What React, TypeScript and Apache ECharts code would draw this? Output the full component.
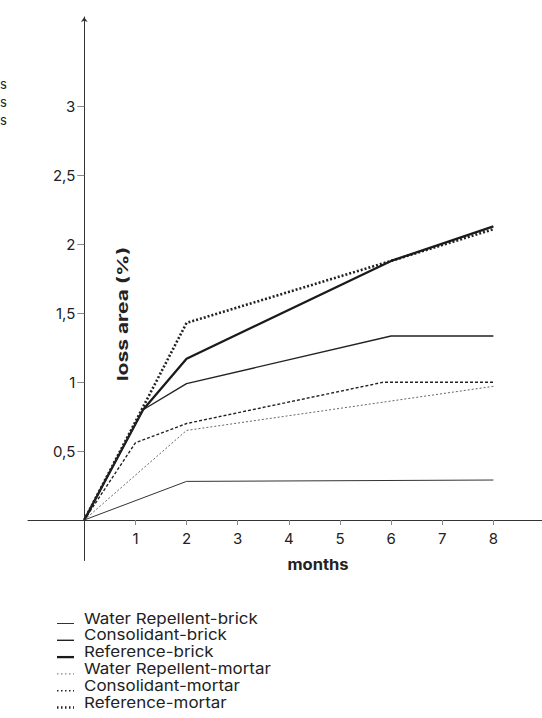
import React, { useEffect, useRef } from "react";
import * as echarts from "echarts";

const seriesNames = [
  "Water Repellent-brick",
  "Consolidant-brick",
  "Reference-brick",
  "Water Repellent-mortar",
  "Consolidant-mortar",
  "Reference-mortar",
];
const waterRepellentBrick = [[0, 0], [2, 0.28], [8, 0.29]];
const consolidantBrick = [[0, 0], [1.15, 0.8], [2, 0.99], [6, 1.335], [8, 1.335]];
const referenceBrick = [[0, 0], [1.15, 0.8], [2, 1.17], [6, 1.88], [8, 2.13]];
const waterRepellentMortar = [[0, 0], [2, 0.65], [8, 0.97]];
const consolidantMortar = [[0, 0], [1, 0.56], [2, 0.7], [5.85, 1.0], [8, 1.0]];
const referenceMortar = [[0, 0], [1.15, 0.82], [2, 1.43], [6, 1.88], [8, 2.11]];
const xTicks = [1, 2, 3, 4, 5, 6, 7, 8];
const yTicks = [0.5, 1, 1.5, 2, 2.5, 3];
const xAxisTitle = "months";
const yAxisTitle = "loss area (%)";
const cutTexts = ["s", "s", "s"];

const FONT = "Inter, 'Liberation Sans', Arial, sans-serif";
const styles = [
  { width: 1, type: "solid" as any, color: "#333" },
  { width: 1.4, type: "solid" as any, color: "#222" },
  { width: 2.3, type: "solid" as any, color: "#1a1a1a" },
  { width: 1, type: [2, 2] as any, color: "#666" },
  { width: 1.4, type: [3, 2] as any, color: "#222" },
  { width: 2.6, type: [2, 2] as any, color: "#222" },
];
const datasets = [
  waterRepellentBrick,
  consolidantBrick,
  referenceBrick,
  waterRepellentMortar,
  consolidantMortar,
  referenceMortar,
];

export default function App() {
  const ref = useRef<HTMLDivElement>(null);
  useEffect(() => {
    if (!ref.current) return;
    const chart = echarts.init(ref.current, null, { renderer: "svg" });
    const g: any[] = [];
    seriesNames.forEach((name, i) => {
      const cy = 618 + i * 16.8;
      const s = styles[i];
      g.push({
        type: "line",
        shape: { x1: 57, y1: cy + 5.5, x2: 74, y2: cy + 5.5 },
        style: {
          stroke: s.color,
          lineWidth: s.width,
          lineDash: Array.isArray(s.type) ? [1.5, 2.5] : null,
        },
      });
      g.push({
        type: "text",
        x: 84,
        y: cy,
        scaleX: 1.13,
        style: {
          text: name,
          font: `15px ${FONT}`,
          lineHeight: 15,
          fill: "#222",
          align: "left",
          verticalAlign: "middle",
        },
      });
    });
    cutTexts.forEach((t, i) => {
      g.push({
        type: "text",
        x: 0,
        y: 84 + i * 18,
        style: { text: t, font: `13px ${FONT}`, fill: "#222", align: "left", verticalAlign: "middle" },
      });
    });
    g.push({
      type: "text",
      x: 122,
      y: 314,
      rotation: Math.PI / 2,
      scaleX: 1.4,
      style: { text: yAxisTitle, font: `bold 15px ${FONT}`, fill: "#222", align: "center", verticalAlign: "middle" },
    });
    g.push({
      type: "text",
      x: 318,
      y: 565,
      scaleX: 1.1,
      style: { text: xAxisTitle, font: `bold 15px ${FONT}`, fill: "#222", align: "center", verticalAlign: "middle" },
    });

    const labelStyle = { fontSize: 15, fontFamily: FONT, color: "#222" };

    chart.setOption({
      animation: false,
      grid: [
        { left: 28, right: 0, top: 17, bottom: 157.5, containLabel: false },
        { left: 84.3, right: 0, top: 17, bottom: 198, containLabel: false },
      ],
      xAxis: [
        {
          gridIndex: 0,
          type: "value",
          min: -1.1,
          max: 8.95,
          splitLine: { show: false },
          axisLine: { onZero: true, lineStyle: { color: "#333", width: 1 } },
          axisTick: { show: false },
          axisLabel: { show: false },
        },
        {
          gridIndex: 1,
          type: "value",
          min: 0,
          max: 8.95,
          interval: 1,
          splitLine: { show: false },
          axisLine: { show: false },
          axisTick: { show: true, customValues: xTicks, length: 5, lineStyle: { color: "#888" } },
          axisLabel: { ...labelStyle, customValues: xTicks, margin: 11 },
        },
      ],
      yAxis: [
        {
          gridIndex: 0,
          type: "value",
          min: -0.294,
          max: 3.65,
          splitLine: { show: false },
          axisLine: {
            onZero: true,
            symbol: ["none", "arrow"],
            symbolSize: [5, 5],
            lineStyle: { color: "#333", width: 1 },
          },
          axisTick: { show: false },
          axisLabel: { show: false },
        },
        {
          gridIndex: 1,
          type: "value",
          min: 0,
          max: 3.65,
          interval: 0.5,
          splitLine: { show: false },
          axisLine: { show: false },
          axisTick: { show: true, customValues: yTicks, length: 7, lineStyle: { color: "#888" } },
          axisLabel: {
            ...labelStyle,
            customValues: yTicks,
            margin: 9,
            padding: [0, 0, 7, 0],
            formatter: (v: number) => String(v).replace(".", ","),
          },
        },
      ],
      series: datasets.map((d, i) => ({
        name: seriesNames[i],
        type: "line",
        xAxisIndex: 0,
        yAxisIndex: 0,
        data: d,
        symbol: "none",
        lineStyle: { width: styles[i].width, type: styles[i].type, color: styles[i].color },
        z: 10 - i,
      })),
      graphic: g,
    });
    return () => chart.dispose();
  }, []);
  return (
    <div
      ref={ref}
      style={{ position: "absolute", left: 0, top: 0, width: 542, height: 718, background: "#fff" }}
    />
  );
}
